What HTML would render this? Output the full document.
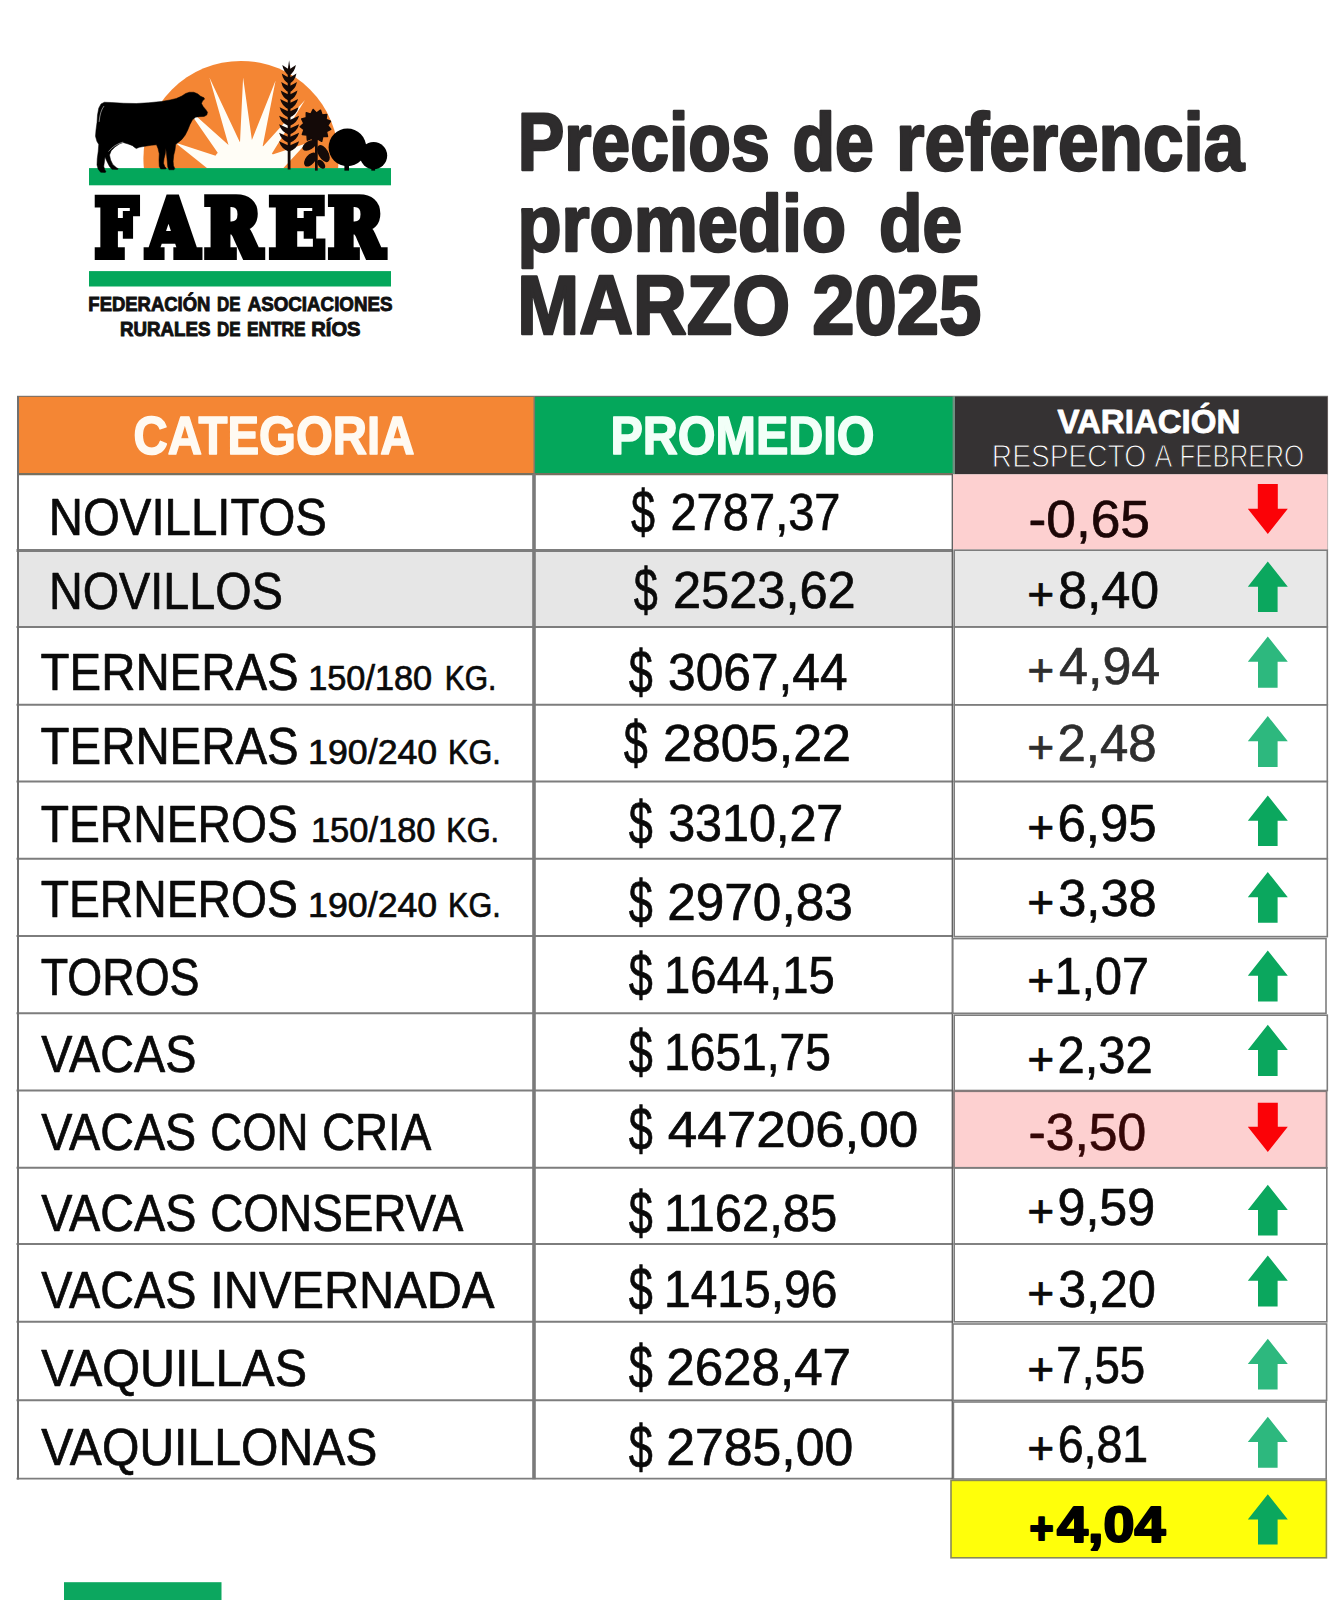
<!DOCTYPE html>
<html lang="es"><head><meta charset="utf-8"><title>FARER - Precios de referencia promedio de MARZO 2025</title>
<style>
html,body{margin:0;padding:0;background:#fff}
body{width:1343px;height:1600px;overflow:hidden;font-family:"Liberation Sans",sans-serif}
svg{display:block}
text{white-space:pre}
</style></head><body>
<svg width="1343" height="1600" viewBox="0 0 1343 1600">
<rect width="1343" height="1600" fill="#ffffff"/>
<g id="logo">
<clipPath id="sunclip"><rect x="100" y="40" width="300" height="128.6"/></clipPath>
<circle cx="241" cy="158.5" r="97.6" fill="#f48634" clip-path="url(#sunclip)"/>
<polygon fill="#fffdf6" points="207.5,168.6 175,142.5 221,157.5 186,107 228.5,145 209.4,77.5 240,142.5 243.1,77.5 251.9,140 275.6,80.6 262.5,147 305,100 271,155 306,143.5 283,168.6"/>
<ellipse cx="244.5" cy="168.6" rx="33" ry="27" fill="#fffdf6" clip-path="url(#sunclip)"/>
<rect x="89" y="168.1" width="302" height="17.2" fill="#04a75b"/>
<g transform="translate(80,55) scale(0.125)"><polygon fill="#000" stroke="#000" stroke-width="4" stroke-linejoin="round" points="195,378 250,380 350,386 450,388 550,382 650,372 720,360 770,348 815,328 845,308 875,298 910,298 940,310 965,330 992,342 996,352 980,368 972,388 985,412 1005,435 1020,458 1014,480 992,492 955,493 925,497 900,518 880,555 862,600 842,640 815,675 785,700 765,715 760,760 750,800 745,850 748,885 758,908 752,918 712,918 702,895 698,850 692,790 686,745 682,790 672,830 668,865 678,892 690,906 686,912 645,912 634,890 632,840 634,790 625,750 612,718 570,722 520,730 475,738 450,748 435,738 420,725 385,712 345,700 315,712 280,735 250,765 236,800 245,840 262,875 290,900 306,910 300,916 255,914 235,890 215,850 200,815 196,850 190,890 198,918 208,934 200,940 165,938 145,912 136,880 138,830 146,770 150,715 135,690 124,650 128,600 136,540 140,480 150,425 168,392"/><path d="M192,408 Q160,450 153,535" fill="none" stroke="#fff" stroke-width="4"/><path d="M345,697 Q275,715 228,772" fill="none" stroke="#fff" stroke-width="4"/></g>
<path d="M289.1,60.3 L287.70000000000005,70 L287.70000000000005,169.6 L290.5,169.6 L290.5,70 Z" fill="#140a08"/>
<path d="M289.1,75.40 Q283.66,72.60 282.30,65.00 Q286.04,67.60 289.1,69.40 Z" fill="#140a08"/>
<path d="M289.1,75.40 Q294.54,72.60 295.90,65.00 Q292.16,67.60 289.1,69.40 Z" fill="#140a08"/>
<path d="M289.1,83.87 Q283.23,81.07 281.77,73.47 Q285.80,76.07 289.1,77.87 Z" fill="#140a08"/>
<path d="M289.1,83.87 Q294.97,81.07 296.43,73.47 Q292.40,76.07 289.1,77.87 Z" fill="#140a08"/>
<path d="M289.1,92.34 Q282.81,89.54 281.23,81.94 Q285.56,84.54 289.1,86.34 Z" fill="#140a08"/>
<path d="M289.1,92.34 Q295.39,89.54 296.97,81.94 Q292.64,84.54 289.1,86.34 Z" fill="#140a08"/>
<path d="M289.1,100.81 Q282.38,98.01 280.70,90.41 Q285.32,93.01 289.1,94.81 Z" fill="#140a08"/>
<path d="M289.1,100.81 Q295.82,98.01 297.50,90.41 Q292.88,93.01 289.1,94.81 Z" fill="#140a08"/>
<path d="M289.1,109.28 Q281.95,106.48 280.17,98.88 Q285.08,101.48 289.1,103.28 Z" fill="#140a08"/>
<path d="M289.1,109.28 Q296.25,106.48 298.03,98.88 Q293.12,101.48 289.1,103.28 Z" fill="#140a08"/>
<path d="M289.1,117.75 Q281.53,114.95 279.63,107.35 Q284.84,109.95 289.1,111.75 Z" fill="#140a08"/>
<path d="M289.1,117.75 Q296.67,114.95 298.57,107.35 Q293.36,109.95 289.1,111.75 Z" fill="#140a08"/>
<path d="M289.1,126.22 Q281.10,123.42 279.10,115.82 Q284.60,118.42 289.1,120.22 Z" fill="#140a08"/>
<path d="M289.1,126.22 Q297.10,123.42 299.10,115.82 Q293.60,118.42 289.1,120.22 Z" fill="#140a08"/>
<path d="M289.1,134.69 Q281.10,131.89 279.10,124.29 Q284.60,126.89 289.1,128.69 Z" fill="#140a08"/>
<path d="M289.1,134.69 Q297.10,131.89 299.10,124.29 Q293.60,126.89 289.1,128.69 Z" fill="#140a08"/>
<path d="M289.1,143.16 Q281.10,140.36 279.10,132.76 Q284.60,135.36 289.1,137.16 Z" fill="#140a08"/>
<path d="M289.1,143.16 Q297.10,140.36 299.10,132.76 Q293.60,135.36 289.1,137.16 Z" fill="#140a08"/>
<path d="M289.1,151.63 Q281.10,148.83 279.10,141.23 Q284.60,143.83 289.1,145.63 Z" fill="#140a08"/>
<path d="M289.1,151.63 Q297.10,148.83 299.10,141.23 Q293.60,143.83 289.1,145.63 Z" fill="#140a08"/>
<polygon fill="#140a08" stroke="#140a08" stroke-width="1.5" stroke-linejoin="round" points="330.7,129.3 326.4,131.5 327.5,136.5 322.8,136.4 321.7,141.3 317.5,138.8 314.4,142.6 311.8,138.3 307.4,140.1 307.0,135.0 302.3,134.4 304.1,129.6 300.2,126.7 303.9,123.4 301.7,118.9 306.3,117.8 306.3,112.7 310.9,114.1 313.1,109.5 316.5,113.1 320.5,110.2 322.0,115.0 326.7,114.4 326.0,119.5 330.4,121.3 327.6,125.5"/>
<rect x="315" y="136" width="2.7" height="34.6" fill="#140a08"/>
<ellipse cx="309.4" cy="145.4" rx="7.6" ry="4.3" transform="rotate(-30 309.4 145.4)" fill="#140a08"/>
<ellipse cx="310.4" cy="159.6" rx="8.2" ry="4.7" transform="rotate(-50 310.4 159.6)" fill="#140a08"/>
<ellipse cx="323.4" cy="153.6" rx="9.4" ry="5.0" transform="rotate(60 323.4 153.6)" fill="#140a08"/>
<ellipse cx="321.2" cy="164.2" rx="5.2" ry="3.0" transform="rotate(50 321.2 164.2)" fill="#140a08"/>
<circle cx="347.4" cy="147.4" r="18.8" fill="#000"/><rect x="344.4" y="160" width="4.6" height="10.6" fill="#000"/>
<circle cx="373.6" cy="155.6" r="13.6" fill="#000"/><rect x="371.3" y="165" width="3.8" height="5.6" fill="#000"/>
<rect x="89" y="271.1" width="302" height="15.4" fill="#04a75b"/>
</g>
<g id="table">
<rect x="17" y="396" width="517" height="78.5" fill="#f48634"/>
<rect x="534" y="396" width="419.5" height="78.5" fill="#04a75b"/>
<rect x="953.5" y="396" width="374.4" height="78.4" fill="#353233"/>
<rect x="17" y="550" width="936" height="76.5" fill="#e6e6e6"/>
<rect x="953" y="550" width="374.5" height="76.5" fill="#e8e8e8"/>
<rect x="953" y="474.4" width="374.3" height="75.2" fill="#fdd0d0"/>
<rect x="953.5" y="1091" width="373" height="76.5" fill="#fdd0d0"/>
<rect x="951" y="1480.4" width="375.4" height="77.4" fill="#ffff0a" stroke="#8a8a55" stroke-width="1.6"/>
<path d="M17,396.3 H1328" stroke="#6b6b6b" stroke-width="1.2" fill="none" opacity="0.8"/>
<path d="M17,474.1 H953" stroke="#77705f" stroke-width="2.2" fill="none"/>
<path d="M534.3,396 V474" stroke="#7a7a6a" stroke-width="1.6" fill="none"/>
<path d="M953.8,396 V474" stroke="#6f8f80" stroke-width="2.4" fill="none"/>
<path d="M16.5,550.4 H952.5" stroke="#7d7d7d" stroke-width="3.0" fill="none"/>
<path d="M16.5,626.9 H952.5" stroke="#7d7d7d" stroke-width="2.0" fill="none"/>
<path d="M16.5,704.8 H952.5" stroke="#7d7d7d" stroke-width="2.0" fill="none"/>
<path d="M16.5,781.5 H952.5" stroke="#7d7d7d" stroke-width="2.0" fill="none"/>
<path d="M16.5,858.7 H952.5" stroke="#7d7d7d" stroke-width="2.0" fill="none"/>
<path d="M16.5,936.0 H952.5" stroke="#7d7d7d" stroke-width="2.0" fill="none"/>
<path d="M16.5,1013.3 H952.5" stroke="#7d7d7d" stroke-width="2.0" fill="none"/>
<path d="M16.5,1090.5 H952.5" stroke="#7d7d7d" stroke-width="2.0" fill="none"/>
<path d="M16.5,1167.8 H952.5" stroke="#7d7d7d" stroke-width="2.0" fill="none"/>
<path d="M16.5,1244.0 H952.5" stroke="#7d7d7d" stroke-width="2.0" fill="none"/>
<path d="M16.5,1321.8 H952.5" stroke="#7d7d7d" stroke-width="2.0" fill="none"/>
<path d="M16.5,1400.3 H952.5" stroke="#7d7d7d" stroke-width="2.0" fill="none"/>
<path d="M16.5,1478.6 H952.5" stroke="#7d7d7d" stroke-width="1.6" fill="none"/>
<path d="M18,396 V1479.4" stroke="#707070" stroke-width="2" fill="none"/>
<path d="M534,474 V1479.3" stroke="#7a7a7a" stroke-width="3.6" fill="none"/>
<path d="M952.3,474 V1479.3" stroke="#5a5a5a" stroke-width="1.3" fill="none"/>
<rect x="954.2" y="550.2" width="373.0999999999999" height="76.69999999999993" fill="none" stroke="#7d7d7d" stroke-width="1.6"/>
<rect x="954.2" y="626.9" width="373.0999999999999" height="77.89999999999998" fill="none" stroke="#7d7d7d" stroke-width="1.6"/>
<rect x="954.2" y="704.8" width="373.0999999999999" height="76.70000000000005" fill="none" stroke="#7d7d7d" stroke-width="1.6"/>
<rect x="954.2" y="781.5" width="373.0999999999999" height="77.20000000000005" fill="none" stroke="#7d7d7d" stroke-width="1.6"/>
<rect x="954.2" y="858.7" width="373.0999999999999" height="77.89999999999998" fill="none" stroke="#7d7d7d" stroke-width="1.6"/>
<rect x="952.8" y="938.6" width="373.20000000000005" height="74.69999999999993" fill="none" stroke="#7d7d7d" stroke-width="1.6"/>
<rect x="954.2" y="1015.2" width="373.0999999999999" height="75.29999999999995" fill="none" stroke="#7d7d7d" stroke-width="1.6"/>
<rect x="954.0" y="1091.2" width="372.5999999999999" height="76.59999999999991" fill="none" stroke="#857a7a" stroke-width="1.8"/>
<rect x="954.2" y="1167.8" width="372.5999999999999" height="76.20000000000005" fill="none" stroke="#7d7d7d" stroke-width="1.6"/>
<rect x="954.2" y="1244.0" width="372.5999999999999" height="77.79999999999995" fill="none" stroke="#7d7d7d" stroke-width="1.6"/>
<rect x="953" y="1324.0" width="373.5999999999999" height="76.40000000000009" fill="none" stroke="#7d7d7d" stroke-width="1.6"/>
<rect x="953.4" y="1402.0" width="372.80000000000007" height="77.0" fill="none" stroke="#7d7d7d" stroke-width="1.6"/>
<path d="M1327.6,396 V550" stroke="#8a7a7a" stroke-width="1" fill="none" opacity="0.5"/>
</g>
<g id="arrows">
<path d="M1267.8,534 L1287.8,508.8 L1277.8,508.8 L1277.8,484 L1257.8,484 L1257.8,508.8 L1247.8,508.8 Z" fill="#fb0207"/>
<path d="M1267.8,561.5 L1287.8,586.7 L1277.6,586.7 L1277.6,612.1 L1258.0,612.1 L1258.0,586.7 L1247.8,586.7 Z" fill="#0ba75e"/>
<path d="M1267.8,636.5 L1287.8,661.7 L1277.6,661.7 L1277.6,687.6999999999999 L1258.0,687.6999999999999 L1258.0,661.7 L1247.8,661.7 Z" fill="#2db87e"/>
<path d="M1267.8,716.0999999999999 L1287.8,741.3 L1277.6,741.3 L1277.6,767.1 L1258.0,767.1 L1258.0,741.3 L1247.8,741.3 Z" fill="#2db87e"/>
<path d="M1267.8,795.5 L1287.8,820.7 L1277.6,820.7 L1277.6,846.1 L1258.0,846.1 L1258.0,820.7 L1247.8,820.7 Z" fill="#0ba75e"/>
<path d="M1267.8,872.0999999999999 L1287.8,897.3 L1277.6,897.3 L1277.6,922.6999999999999 L1258.0,922.6999999999999 L1258.0,897.3 L1247.8,897.3 Z" fill="#0ba75e"/>
<path d="M1267.8,950.5 L1287.8,975.7 L1277.6,975.7 L1277.6,1001.4 L1258.0,1001.4 L1258.0,975.7 L1247.8,975.7 Z" fill="#0ba75e"/>
<path d="M1267.8,1024.8 L1287.8,1050.0 L1277.6,1050.0 L1277.6,1076.1000000000001 L1258.0,1076.1000000000001 L1258.0,1050.0 L1247.8,1050.0 Z" fill="#0ba75e"/>
<path d="M1267.8,1152 L1287.8,1126.8 L1277.8,1126.8 L1277.8,1102.7 L1257.8,1102.7 L1257.8,1126.8 L1247.8,1126.8 Z" fill="#fb0207"/>
<path d="M1267.8,1184.8 L1287.8,1210.0 L1277.6,1210.0 L1277.6,1235.4 L1258.0,1235.4 L1258.0,1210.0 L1247.8,1210.0 Z" fill="#0ba75e"/>
<path d="M1267.8,1255.5 L1287.8,1280.7 L1277.6,1280.7 L1277.6,1306.4 L1258.0,1306.4 L1258.0,1280.7 L1247.8,1280.7 Z" fill="#0ba75e"/>
<path d="M1267.8,1338.8 L1287.8,1364.0 L1277.6,1364.0 L1277.6,1389.4 L1258.0,1389.4 L1258.0,1364.0 L1247.8,1364.0 Z" fill="#2db87e"/>
<path d="M1267.8,1416.8 L1287.8,1442.0 L1277.6,1442.0 L1277.6,1467.8000000000002 L1258.0,1467.8000000000002 L1258.0,1442.0 L1247.8,1442.0 Z" fill="#2db87e"/>
<path d="M1267.8,1494.3 L1287.8,1519.5 L1277.6,1519.5 L1277.6,1544.4 L1258.0,1544.4 L1258.0,1519.5 L1247.8,1519.5 Z" fill="#0ba75e"/>
</g>
<rect x="64" y="1582.2" width="157.5" height="18" fill="#0ca75f"/>
<g id="texts">
<text font-family="'Liberation Sans', sans-serif" font-weight="bold" fill="#2e2c2d"  stroke="#2e2c2d" stroke-width="2.6" stroke-linejoin="round"><tspan x="517.64" y="169.60" font-size="81.83" textLength="252.19" lengthAdjust="spacingAndGlyphs">Precios</tspan> <tspan x="792.42" y="169.60" font-size="81.83" textLength="81.31" lengthAdjust="spacingAndGlyphs">de</tspan> <tspan x="896.05" y="169.60" font-size="81.83" textLength="348.19" lengthAdjust="spacingAndGlyphs">referencia</tspan></text>
<text font-family="'Liberation Sans', sans-serif" font-weight="bold" fill="#2e2c2d"  stroke="#2e2c2d" stroke-width="2.6" stroke-linejoin="round"><tspan x="517.49" y="251.40" font-size="80.09" textLength="328.57" lengthAdjust="spacingAndGlyphs">promedio</tspan> <tspan x="879.07" y="251.40" font-size="80.09" textLength="83.10" lengthAdjust="spacingAndGlyphs">de</tspan></text>
<text font-family="'Liberation Sans', sans-serif" font-weight="bold" fill="#2e2c2d"  stroke="#2e2c2d" stroke-width="2.6" stroke-linejoin="round"><tspan x="517.35" y="334.40" font-size="82.70" textLength="272.72" lengthAdjust="spacingAndGlyphs">MARZO</tspan> <tspan x="812.23" y="334.40" font-size="82.70" textLength="169.07" lengthAdjust="spacingAndGlyphs">2025</tspan></text>
<text font-family="'Liberation Sans', sans-serif" font-weight="bold" fill="#111" stroke="#111" stroke-width="0.9"><tspan x="88.35" y="310.75" font-size="19.55" textLength="122.12" lengthAdjust="spacingAndGlyphs">FEDERACIÓN</tspan> <tspan x="216.94" y="310.75" font-size="19.55" textLength="23.50" lengthAdjust="spacingAndGlyphs">DE</tspan> <tspan x="247.71" y="310.75" font-size="19.55" textLength="144.79" lengthAdjust="spacingAndGlyphs">ASOCIACIONES</tspan></text>
<text font-family="'Liberation Sans', sans-serif" font-weight="bold" fill="#111" stroke="#111" stroke-width="0.9"><tspan x="120.08" y="336.25" font-size="19.55" textLength="90.41" lengthAdjust="spacingAndGlyphs">RURALES</tspan> <tspan x="216.94" y="336.25" font-size="19.55" textLength="23.50" lengthAdjust="spacingAndGlyphs">DE</tspan> <tspan x="246.92" y="336.25" font-size="19.55" textLength="58.53" lengthAdjust="spacingAndGlyphs">ENTRE</tspan> <tspan x="311.24" y="336.25" font-size="19.55" textLength="49.29" lengthAdjust="spacingAndGlyphs">RÍOS</tspan></text>
<text font-family="'Liberation Sans', sans-serif" font-weight="bold" fill="#fffaf2"  stroke="#fffaf2" stroke-width="1.6" stroke-linejoin="round"><tspan x="133.62" y="454.00" font-size="54.36" textLength="280.78" lengthAdjust="spacingAndGlyphs">CATEGORIA</tspan></text>
<text font-family="'Liberation Sans', sans-serif" font-weight="bold" fill="#f2fff8"  stroke="#f2fff8" stroke-width="1.6" stroke-linejoin="round"><tspan x="610.47" y="454.00" font-size="54.36" textLength="264.08" lengthAdjust="spacingAndGlyphs">PROMEDIO</tspan></text>
<text font-family="'Liberation Sans', sans-serif" font-weight="bold" fill="#ffffff"  stroke="#ffffff" stroke-width="0.8" stroke-linejoin="round"><tspan x="1057.40" y="433.10" font-size="32.41" textLength="182.98" lengthAdjust="spacingAndGlyphs">VARIACIÓN</tspan></text>
<text font-family="'Liberation Sans', sans-serif" font-weight="normal" fill="#ffffff" stroke="#353233" stroke-width="1.1"><tspan x="991.80" y="467.00" font-size="31.25" textLength="154.42" lengthAdjust="spacingAndGlyphs">RESPECTO</tspan> <tspan x="1154.50" y="467.00" font-size="31.25" textLength="17.87" lengthAdjust="spacingAndGlyphs">A</tspan> <tspan x="1179.49" y="467.00" font-size="31.25" textLength="124.63" lengthAdjust="spacingAndGlyphs">FEBRERO</tspan></text>
<text font-family="'Liberation Sans', sans-serif" font-weight="normal" fill="#0a0a0a"  stroke="#0a0a0a" stroke-width="0.7" stroke-linejoin="round"><tspan x="48.85" y="534.65" font-size="52.33" textLength="278.09" lengthAdjust="spacingAndGlyphs">NOVILLITOS</tspan></text>
<text font-family="'Liberation Sans', sans-serif" font-weight="normal" fill="#0a0a0a"  stroke="#0a0a0a" stroke-width="0.7" stroke-linejoin="round"><tspan x="48.89" y="608.95" font-size="51.74" textLength="234.02" lengthAdjust="spacingAndGlyphs">NOVILLOS</tspan></text>
<text font-family="'Liberation Sans', sans-serif" font-weight="normal" fill="#0a0a0a"  stroke="#0a0a0a" stroke-width="0.7" stroke-linejoin="round"><tspan x="40.61" y="690.35" font-size="52.33" textLength="258.03" lengthAdjust="spacingAndGlyphs">TERNERAS</tspan> <tspan x="308.21" y="690.35" font-size="34.30" textLength="124.00" lengthAdjust="spacingAndGlyphs">150/180</tspan> <tspan x="444.71" y="690.35" font-size="34.30" textLength="51.65" lengthAdjust="spacingAndGlyphs">KG.</tspan></text>
<text font-family="'Liberation Sans', sans-serif" font-weight="normal" fill="#0a0a0a"  stroke="#0a0a0a" stroke-width="0.7" stroke-linejoin="round"><tspan x="40.61" y="763.65" font-size="52.33" textLength="258.03" lengthAdjust="spacingAndGlyphs">TERNERAS</tspan> <tspan x="308.12" y="763.65" font-size="34.30" textLength="129.12" lengthAdjust="spacingAndGlyphs">190/240</tspan> <tspan x="447.96" y="763.65" font-size="34.30" textLength="52.76" lengthAdjust="spacingAndGlyphs">KG.</tspan></text>
<text font-family="'Liberation Sans', sans-serif" font-weight="normal" fill="#0a0a0a"  stroke="#0a0a0a" stroke-width="0.7" stroke-linejoin="round"><tspan x="40.63" y="841.95" font-size="51.74" textLength="257.27" lengthAdjust="spacingAndGlyphs">TERNEROS</tspan> <tspan x="310.90" y="841.95" font-size="34.30" textLength="124.61" lengthAdjust="spacingAndGlyphs">150/180</tspan> <tspan x="446.25" y="841.95" font-size="34.30" textLength="52.87" lengthAdjust="spacingAndGlyphs">KG.</tspan></text>
<text font-family="'Liberation Sans', sans-serif" font-weight="normal" fill="#0a0a0a"  stroke="#0a0a0a" stroke-width="0.7" stroke-linejoin="round"><tspan x="40.63" y="917.35" font-size="51.60" textLength="257.27" lengthAdjust="spacingAndGlyphs">TERNEROS</tspan> <tspan x="308.12" y="917.35" font-size="34.30" textLength="129.12" lengthAdjust="spacingAndGlyphs">190/240</tspan> <tspan x="447.96" y="917.35" font-size="34.30" textLength="52.76" lengthAdjust="spacingAndGlyphs">KG.</tspan></text>
<text font-family="'Liberation Sans', sans-serif" font-weight="normal" fill="#0a0a0a"  stroke="#0a0a0a" stroke-width="0.7" stroke-linejoin="round"><tspan x="40.65" y="995.35" font-size="51.89" textLength="158.89" lengthAdjust="spacingAndGlyphs">TOROS</tspan></text>
<text font-family="'Liberation Sans', sans-serif" font-weight="normal" fill="#0a0a0a"  stroke="#0a0a0a" stroke-width="0.7" stroke-linejoin="round"><tspan x="41.35" y="1071.95" font-size="51.74" textLength="154.96" lengthAdjust="spacingAndGlyphs">VACAS</tspan></text>
<text font-family="'Liberation Sans', sans-serif" font-weight="normal" fill="#0a0a0a"  stroke="#0a0a0a" stroke-width="0.7" stroke-linejoin="round"><tspan x="41.35" y="1150.35" font-size="52.33" textLength="154.96" lengthAdjust="spacingAndGlyphs">VACAS</tspan> <tspan x="210.28" y="1150.35" font-size="52.33" textLength="98.28" lengthAdjust="spacingAndGlyphs">CON</tspan> <tspan x="321.90" y="1150.35" font-size="52.33" textLength="109.53" lengthAdjust="spacingAndGlyphs">CRIA</tspan></text>
<text font-family="'Liberation Sans', sans-serif" font-weight="normal" fill="#0a0a0a"  stroke="#0a0a0a" stroke-width="0.7" stroke-linejoin="round"><tspan x="41.35" y="1231.15" font-size="52.03" textLength="154.96" lengthAdjust="spacingAndGlyphs">VACAS</tspan> <tspan x="210.20" y="1231.15" font-size="52.03" textLength="253.23" lengthAdjust="spacingAndGlyphs">CONSERVA</tspan></text>
<text font-family="'Liberation Sans', sans-serif" font-weight="normal" fill="#0a0a0a"  stroke="#0a0a0a" stroke-width="0.7" stroke-linejoin="round"><tspan x="41.35" y="1307.65" font-size="52.03" textLength="154.96" lengthAdjust="spacingAndGlyphs">VACAS</tspan> <tspan x="210.24" y="1307.65" font-size="52.03" textLength="284.17" lengthAdjust="spacingAndGlyphs">INVERNADA</tspan></text>
<text font-family="'Liberation Sans', sans-serif" font-weight="normal" fill="#0a0a0a"  stroke="#0a0a0a" stroke-width="0.7" stroke-linejoin="round"><tspan x="41.35" y="1385.95" font-size="51.74" textLength="265.63" lengthAdjust="spacingAndGlyphs">VAQUILLAS</tspan></text>
<text font-family="'Liberation Sans', sans-serif" font-weight="normal" fill="#0a0a0a"  stroke="#0a0a0a" stroke-width="0.7" stroke-linejoin="round"><tspan x="41.35" y="1465.15" font-size="51.74" textLength="336.02" lengthAdjust="spacingAndGlyphs">VAQUILLONAS</tspan></text>
<text font-family="'Liberation Sans', sans-serif" font-weight="normal" fill="#0a0a0a"  stroke="#0a0a0a" stroke-width="0.7" stroke-linejoin="round"><tspan x="631.05" y="533.35" font-size="60.54" textLength="24.00" lengthAdjust="spacingAndGlyphs">$</tspan> <tspan x="670.44" y="530.35" font-size="52.14" textLength="170.11" lengthAdjust="spacingAndGlyphs">2787,37</tspan></text>
<text font-family="'Liberation Sans', sans-serif" font-weight="normal" fill="#0a0a0a"  stroke="#0a0a0a" stroke-width="0.7" stroke-linejoin="round"><tspan x="633.65" y="610.95" font-size="60.54" textLength="24.00" lengthAdjust="spacingAndGlyphs">$</tspan> <tspan x="672.98" y="607.95" font-size="51.57" textLength="182.72" lengthAdjust="spacingAndGlyphs">2523,62</tspan></text>
<text font-family="'Liberation Sans', sans-serif" font-weight="normal" fill="#0a0a0a"  stroke="#0a0a0a" stroke-width="0.7" stroke-linejoin="round"><tspan x="628.65" y="692.65" font-size="60.54" textLength="24.00" lengthAdjust="spacingAndGlyphs">$</tspan> <tspan x="668.10" y="689.65" font-size="51.86" textLength="179.49" lengthAdjust="spacingAndGlyphs">3067,44</tspan></text>
<text font-family="'Liberation Sans', sans-serif" font-weight="normal" fill="#0a0a0a"  stroke="#0a0a0a" stroke-width="0.7" stroke-linejoin="round"><tspan x="623.65" y="764.35" font-size="60.54" textLength="24.00" lengthAdjust="spacingAndGlyphs">$</tspan> <tspan x="662.91" y="761.35" font-size="51.43" textLength="188.15" lengthAdjust="spacingAndGlyphs">2805,22</tspan></text>
<text font-family="'Liberation Sans', sans-serif" font-weight="normal" fill="#0a0a0a"  stroke="#0a0a0a" stroke-width="0.7" stroke-linejoin="round"><tspan x="628.65" y="844.35" font-size="60.54" textLength="24.00" lengthAdjust="spacingAndGlyphs">$</tspan> <tspan x="668.14" y="841.35" font-size="51.43" textLength="175.18" lengthAdjust="spacingAndGlyphs">3310,27</tspan></text>
<text font-family="'Liberation Sans', sans-serif" font-weight="normal" fill="#0a0a0a"  stroke="#0a0a0a" stroke-width="0.7" stroke-linejoin="round"><tspan x="628.65" y="922.65" font-size="60.54" textLength="24.00" lengthAdjust="spacingAndGlyphs">$</tspan> <tspan x="667.24" y="919.65" font-size="51.43" textLength="185.48" lengthAdjust="spacingAndGlyphs">2970,83</tspan></text>
<text font-family="'Liberation Sans', sans-serif" font-weight="normal" fill="#0a0a0a"  stroke="#0a0a0a" stroke-width="0.7" stroke-linejoin="round"><tspan x="628.65" y="995.95" font-size="60.54" textLength="24.00" lengthAdjust="spacingAndGlyphs">$</tspan> <tspan x="664.10" y="992.95" font-size="51.29" textLength="170.77" lengthAdjust="spacingAndGlyphs">1644,15</tspan></text>
<text font-family="'Liberation Sans', sans-serif" font-weight="normal" fill="#0a0a0a"  stroke="#0a0a0a" stroke-width="0.7" stroke-linejoin="round"><tspan x="628.65" y="1072.65" font-size="60.54" textLength="24.00" lengthAdjust="spacingAndGlyphs">$</tspan> <tspan x="664.17" y="1069.65" font-size="51.14" textLength="166.65" lengthAdjust="spacingAndGlyphs">1651,75</tspan></text>
<text font-family="'Liberation Sans', sans-serif" font-weight="normal" fill="#0a0a0a"  stroke="#0a0a0a" stroke-width="0.7" stroke-linejoin="round"><tspan x="628.65" y="1149.95" font-size="60.54" textLength="24.00" lengthAdjust="spacingAndGlyphs">$</tspan> <tspan x="667.82" y="1146.95" font-size="50.86" textLength="250.45" lengthAdjust="spacingAndGlyphs">447206,00</tspan></text>
<text font-family="'Liberation Sans', sans-serif" font-weight="normal" fill="#0a0a0a"  stroke="#0a0a0a" stroke-width="0.7" stroke-linejoin="round"><tspan x="628.65" y="1233.65" font-size="60.54" textLength="24.00" lengthAdjust="spacingAndGlyphs">$</tspan> <tspan x="663.99" y="1230.65" font-size="51.14" textLength="173.34" lengthAdjust="spacingAndGlyphs">1162,85</tspan></text>
<text font-family="'Liberation Sans', sans-serif" font-weight="normal" fill="#0a0a0a"  stroke="#0a0a0a" stroke-width="0.7" stroke-linejoin="round"><tspan x="628.65" y="1309.95" font-size="60.54" textLength="24.00" lengthAdjust="spacingAndGlyphs">$</tspan> <tspan x="664.05" y="1306.95" font-size="51.14" textLength="173.24" lengthAdjust="spacingAndGlyphs">1415,96</tspan></text>
<text font-family="'Liberation Sans', sans-serif" font-weight="normal" fill="#0a0a0a"  stroke="#0a0a0a" stroke-width="0.7" stroke-linejoin="round"><tspan x="628.65" y="1388.35" font-size="60.54" textLength="24.00" lengthAdjust="spacingAndGlyphs">$</tspan> <tspan x="666.25" y="1385.35" font-size="51.14" textLength="184.77" lengthAdjust="spacingAndGlyphs">2628,47</tspan></text>
<text font-family="'Liberation Sans', sans-serif" font-weight="normal" fill="#0a0a0a"  stroke="#0a0a0a" stroke-width="0.7" stroke-linejoin="round"><tspan x="628.65" y="1467.65" font-size="60.54" textLength="24.00" lengthAdjust="spacingAndGlyphs">$</tspan> <tspan x="666.22" y="1464.65" font-size="51.14" textLength="187.01" lengthAdjust="spacingAndGlyphs">2785,00</tspan></text>
<text font-family="'Liberation Sans', sans-serif" font-weight="normal" fill="#1c0606"  stroke="#1c0606" stroke-width="0.7" stroke-linejoin="round"><tspan x="1028.48" y="537.45" font-size="51.86" textLength="121.53" lengthAdjust="spacingAndGlyphs">-0,65</tspan></text>
<text font-family="'Liberation Sans', sans-serif" font-weight="normal" fill="#0a0a0a"  stroke="#0a0a0a" stroke-width="0.7" stroke-linejoin="round"><tspan x="1027.28" y="609.85" font-size="46.44" textLength="26.98" lengthAdjust="spacingAndGlyphs">+</tspan><tspan x="1058.23" y="607.85" font-size="51.86" textLength="101.01" lengthAdjust="spacingAndGlyphs">8,40</tspan></text>
<text font-family="'Liberation Sans', sans-serif" font-weight="normal" fill="#2e2e2e"  stroke="#2e2e2e" stroke-width="0.7" stroke-linejoin="round"><tspan x="1027.28" y="685.85" font-size="46.44" textLength="26.98" lengthAdjust="spacingAndGlyphs">+</tspan><tspan x="1059.04" y="683.85" font-size="51.86" textLength="101.21" lengthAdjust="spacingAndGlyphs">4,94</tspan></text>
<text font-family="'Liberation Sans', sans-serif" font-weight="normal" fill="#2e2e2e"  stroke="#2e2e2e" stroke-width="0.7" stroke-linejoin="round"><tspan x="1027.28" y="762.75" font-size="46.44" textLength="26.98" lengthAdjust="spacingAndGlyphs">+</tspan><tspan x="1057.46" y="760.75" font-size="51.86" textLength="99.15" lengthAdjust="spacingAndGlyphs">2,48</tspan></text>
<text font-family="'Liberation Sans', sans-serif" font-weight="normal" fill="#0a0a0a"  stroke="#0a0a0a" stroke-width="0.7" stroke-linejoin="round"><tspan x="1027.28" y="842.85" font-size="46.44" textLength="26.98" lengthAdjust="spacingAndGlyphs">+</tspan><tspan x="1057.46" y="840.85" font-size="51.86" textLength="99.15" lengthAdjust="spacingAndGlyphs">6,95</tspan></text>
<text font-family="'Liberation Sans', sans-serif" font-weight="normal" fill="#0a0a0a"  stroke="#0a0a0a" stroke-width="0.7" stroke-linejoin="round"><tspan x="1027.28" y="917.95" font-size="46.44" textLength="26.98" lengthAdjust="spacingAndGlyphs">+</tspan><tspan x="1058.27" y="915.95" font-size="51.86" textLength="98.33" lengthAdjust="spacingAndGlyphs">3,38</tspan></text>
<text font-family="'Liberation Sans', sans-serif" font-weight="normal" fill="#0a0a0a"  stroke="#0a0a0a" stroke-width="0.7" stroke-linejoin="round"><tspan x="1027.28" y="996.15" font-size="46.44" textLength="26.98" lengthAdjust="spacingAndGlyphs">+</tspan><tspan x="1054.62" y="994.15" font-size="51.86" textLength="94.40" lengthAdjust="spacingAndGlyphs">1,07</tspan></text>
<text font-family="'Liberation Sans', sans-serif" font-weight="normal" fill="#0a0a0a"  stroke="#0a0a0a" stroke-width="0.7" stroke-linejoin="round"><tspan x="1027.28" y="1074.65" font-size="46.44" textLength="26.98" lengthAdjust="spacingAndGlyphs">+</tspan><tspan x="1057.56" y="1072.65" font-size="51.86" textLength="95.28" lengthAdjust="spacingAndGlyphs">2,32</tspan></text>
<text font-family="'Liberation Sans', sans-serif" font-weight="normal" fill="#350707"  stroke="#350707" stroke-width="0.7" stroke-linejoin="round"><tspan x="1028.54" y="1149.65" font-size="51.86" textLength="117.60" lengthAdjust="spacingAndGlyphs">-3,50</tspan></text>
<text font-family="'Liberation Sans', sans-serif" font-weight="normal" fill="#0a0a0a"  stroke="#0a0a0a" stroke-width="0.7" stroke-linejoin="round"><tspan x="1027.28" y="1227.45" font-size="46.44" textLength="26.98" lengthAdjust="spacingAndGlyphs">+</tspan><tspan x="1057.50" y="1225.45" font-size="51.86" textLength="97.58" lengthAdjust="spacingAndGlyphs">9,59</tspan></text>
<text font-family="'Liberation Sans', sans-serif" font-weight="normal" fill="#0a0a0a"  stroke="#0a0a0a" stroke-width="0.7" stroke-linejoin="round"><tspan x="1027.28" y="1309.35" font-size="46.44" textLength="26.98" lengthAdjust="spacingAndGlyphs">+</tspan><tspan x="1058.28" y="1307.35" font-size="51.86" textLength="97.51" lengthAdjust="spacingAndGlyphs">3,20</tspan></text>
<text font-family="'Liberation Sans', sans-serif" font-weight="normal" fill="#0a0a0a"  stroke="#0a0a0a" stroke-width="0.7" stroke-linejoin="round"><tspan x="1027.28" y="1384.95" font-size="46.44" textLength="26.98" lengthAdjust="spacingAndGlyphs">+</tspan><tspan x="1056.31" y="1382.95" font-size="51.86" textLength="88.89" lengthAdjust="spacingAndGlyphs">7,55</tspan></text>
<text font-family="'Liberation Sans', sans-serif" font-weight="normal" fill="#0a0a0a"  stroke="#0a0a0a" stroke-width="0.7" stroke-linejoin="round"><tspan x="1027.28" y="1463.75" font-size="46.44" textLength="26.98" lengthAdjust="spacingAndGlyphs">+</tspan><tspan x="1057.67" y="1461.75" font-size="51.86" textLength="90.57" lengthAdjust="spacingAndGlyphs">6,81</tspan></text>
<text font-family="'Liberation Sans', sans-serif" font-weight="bold" fill="#000"  stroke="#000" stroke-width="2.2" stroke-linejoin="round"><tspan x="1029.62" y="1544.10" font-size="43.90" textLength="24.01" lengthAdjust="spacingAndGlyphs">+</tspan><tspan x="1057.10" y="1542.10" font-size="49.71" textLength="108.25" lengthAdjust="spacingAndGlyphs">4,04</tspan></text>
<text font-family="'DejaVu Serif', 'Liberation Serif', serif" font-weight="bold" fill="#000" stroke="#000" stroke-width="8.0" stroke-linejoin="miter"><tspan x="94.93" y="256.00" font-size="77.62" textLength="42.73" lengthAdjust="spacingAndGlyphs">F</tspan><tspan x="147.52" y="256.00" font-size="77.62" textLength="50.85" lengthAdjust="spacingAndGlyphs">A</tspan><tspan x="204.54" y="256.00" font-size="77.62" textLength="56.84" lengthAdjust="spacingAndGlyphs">R</tspan><tspan x="269.30" y="256.00" font-size="77.62" textLength="56.16" lengthAdjust="spacingAndGlyphs">E</tspan><tspan x="328.37" y="256.00" font-size="77.62" textLength="55.53" lengthAdjust="spacingAndGlyphs">R</tspan></text>
</g>
</svg>
</body></html>
